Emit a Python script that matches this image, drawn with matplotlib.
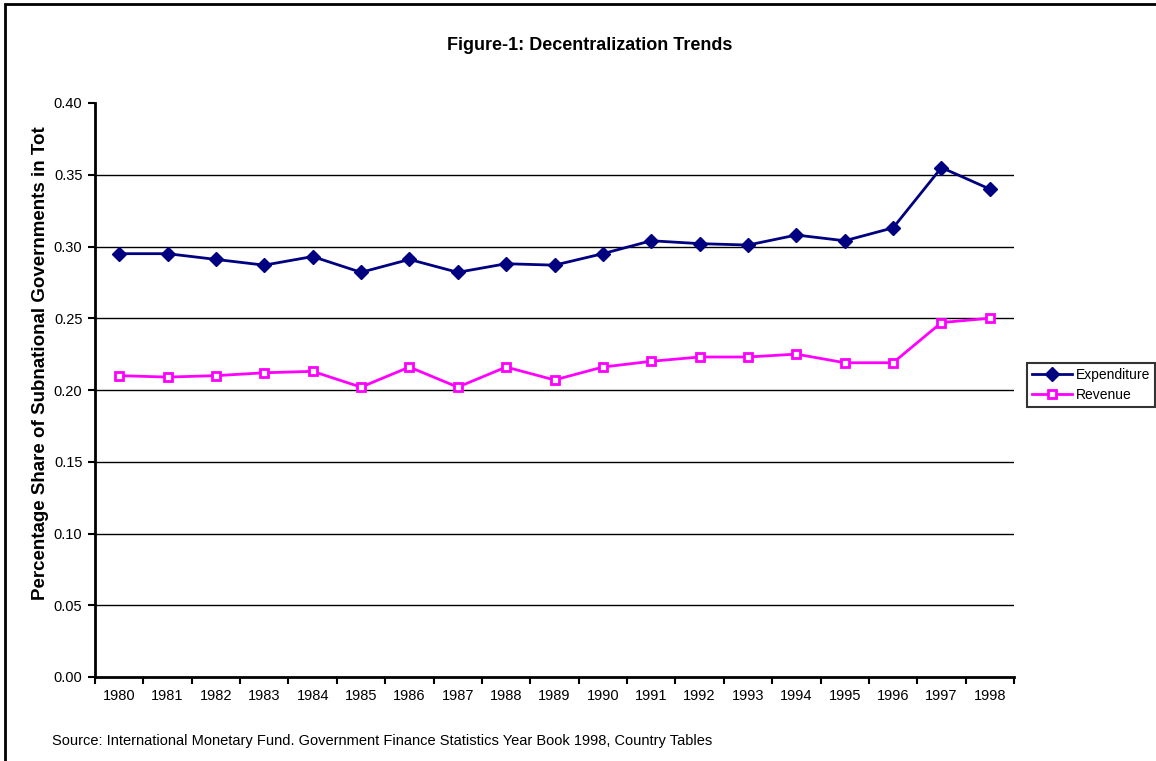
import numpy as np
import matplotlib
matplotlib.use("Agg")
import matplotlib.pyplot as plt
from matplotlib.patches import Rectangle

plt.rcParams['font.family'] = ['Liberation Sans', 'DejaVu Sans']

# data
years = [str(y) for y in range(1980, 1999)]
expenditure = [0.295, 0.295, 0.291, 0.287, 0.293, 0.282, 0.291, 0.282, 0.288, 0.287,
               0.295, 0.304, 0.302, 0.301, 0.308, 0.304, 0.313, 0.355, 0.340]
revenue = [0.210, 0.209, 0.210, 0.212, 0.213, 0.202, 0.216, 0.202, 0.216, 0.207,
           0.216, 0.220, 0.223, 0.223, 0.225, 0.219, 0.219, 0.247, 0.250]
yticks = [0.00, 0.05, 0.10, 0.15, 0.20, 0.25, 0.30, 0.35, 0.40]

W, H = 1156, 761
fig = plt.figure(figsize=(W / 100, H / 100), dpi=100)
ax = fig.add_axes([95 / W, 1 - 677 / H, (1014 - 95) / W, (677 - 103) / H])

x = np.arange(len(years))

# horizontal gridlines (not at 0 or at the top)
for t in yticks[1:-1]:
    ax.axhline(t, color='black', lw=1, zorder=1)

ax.plot(x, expenditure, color='#000080', lw=2, marker='D', markersize=7,
        label='Expenditure', zorder=3)
ax.plot(x, revenue, color='#FF00FF', lw=2, marker='s', markersize=6,
        markerfacecolor='white', markeredgecolor='#FF00FF', markeredgewidth=2,
        label='Revenue', zorder=3)

ax.set_xlim(-0.5, len(years) - 0.5)
ax.set_ylim(0, 0.40)
ax.set_yticks(yticks)
ax.set_yticklabels([f'{t:.2f}' for t in yticks], fontsize=10.5)

# ticks at category boundaries, labels at centres
ax.set_xticks(np.arange(-0.5, len(years), 1))
ax.set_xticklabels([])
ax.set_xticks(x, minor=True)
ax.set_xticklabels(years, minor=True, fontsize=10.5)
ax.tick_params(axis='x', which='major', direction='out', length=5, width=1.5)
ax.tick_params(axis='x', which='minor', length=0, pad=9)
ax.tick_params(axis='y', direction='out', length=5, width=1.5, pad=4)

for s in ['top', 'right']:
    ax.spines[s].set_visible(False)
for s in ['left', 'bottom']:
    ax.spines[s].set_linewidth(2)

fig.text(590 / W, 1 - 45 / H, 'Figure-1: Decentralization Trends',
         ha='center', va='center', fontsize=13, fontweight='bold')
fig.text(41 / W, 1 - 600 / H, 'Percentage Share of Subnational Governments in Tot',
         rotation=90, ha='center', va='bottom', fontsize=13.5, fontweight='bold')
fig.text(52 / W, 1 - 741 / H,
         'Source: International Monetary Fund. Government Finance Statistics Year Book 1998, Country Tables',
         ha='left', va='center', fontsize=10.5)

leg = ax.legend(loc='center left', bbox_to_anchor=(1027 / W, 1 - 385 / H),
                bbox_transform=fig.transFigure, frameon=True, fancybox=False,
                fontsize=10, borderpad=0.35, handlelength=2.9, handletextpad=0.25,
                labelspacing=0.45, borderaxespad=0)
leg.get_frame().set_edgecolor('black')
leg.get_frame().set_linewidth(1.5)

# outer chart frame (only top and left edges are visible in the crop)
fig.patches.append(Rectangle((5 / W, -0.1), 1.2, 1 - 4 / H + 0.1,
                             transform=fig.transFigure, fill=False,
                             edgecolor='black', lw=2, figure=fig))

fig.savefig('out.png', dpi=100)
